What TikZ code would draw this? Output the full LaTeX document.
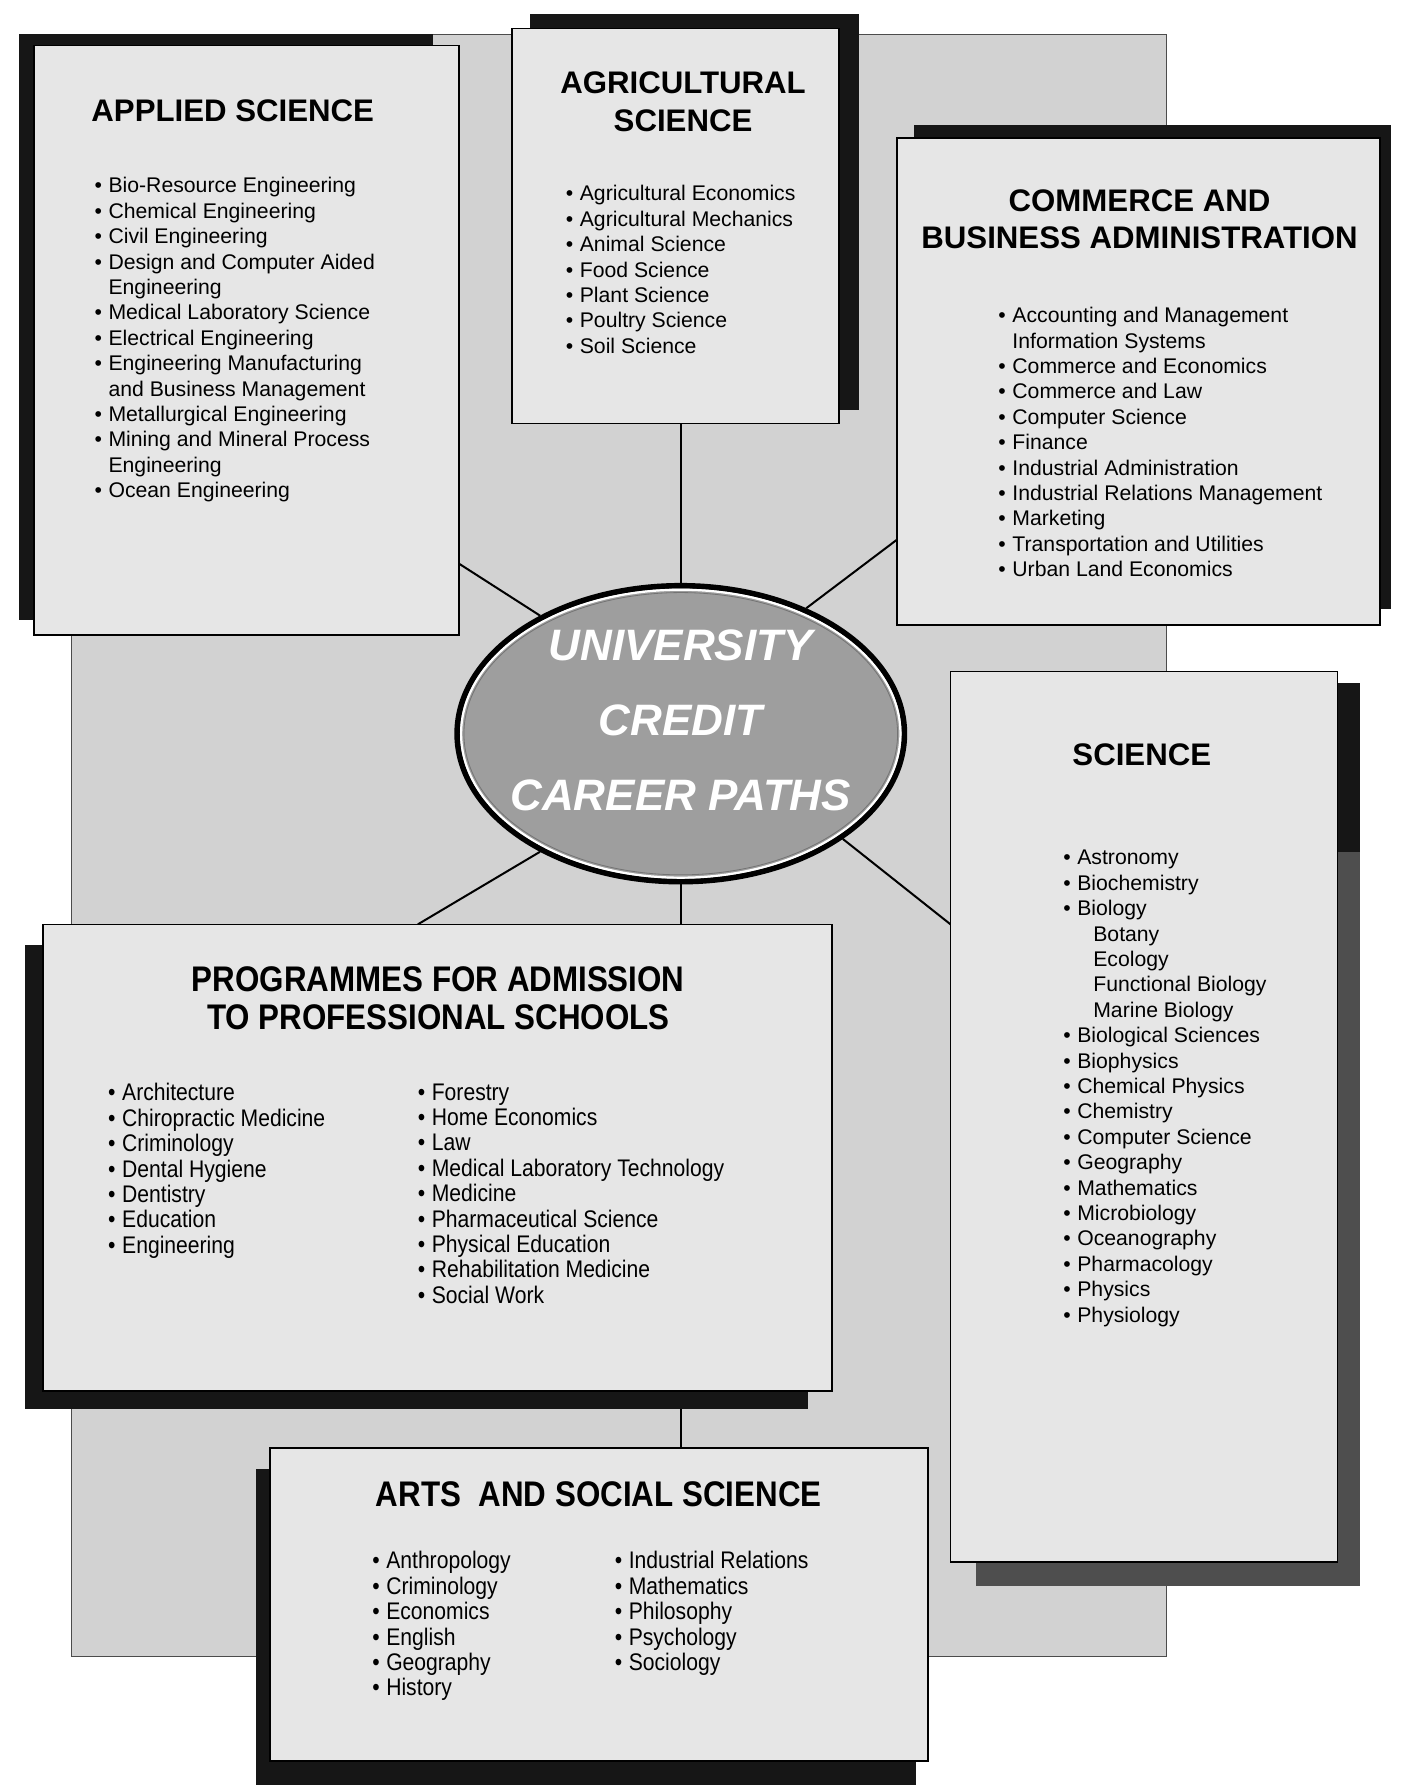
\documentclass[tikz,border=0pt]{standalone}
\usepackage{fontspec}
\setmainfont{Liberation Sans}
\newfontfamily\narrowsans[FakeStretch=0.88]{Liberation Sans}
\usetikzlibrary{shapes.geometric,fit,positioning}
\definecolor{panelgray}{RGB}{210,210,210}
\definecolor{boxgray}{RGB}{230,230,230}
\definecolor{shadowblack}{RGB}{22,22,22}
\definecolor{shadowgray}{RGB}{78,78,78}
\definecolor{hubgray}{RGB}{158,158,158}

\pgfdeclarelayer{back}
\pgfsetlayers{back,main}

% bullet, wrapped line and sub-entry indents
\newcommand\bul{\makebox[7pt][l]{\textbullet}}
\newcommand\wrapin{\hspace*{7pt}}
\newcommand\subin{\hspace*{15pt}}

\begin{document}
\begin{tikzpicture}[x=0.02cm, y=-0.02cm,
  box/.style={draw=black, line width=0.8pt, fill=boxgray, inner sep=0pt},
  hub/.style={ellipse, draw=black, line width=2.8pt, fill=hubgray,
    minimum width=7.86cm, minimum height=5.2cm, inner sep=0pt},
  hubtext/.style={font=\fontsize{22}{37.4}\selectfont\bfseries\itshape,
    text=white, align=center, inner sep=0pt},
  headline/.style={font=\fontsize{15.6}{18.7}\selectfont\bfseries,
    align=center, anchor=north, inner sep=0pt},
  itemlist/.style={font=\fontsize{10.6}{12.7}\selectfont,
    align=left, anchor=north west, inner sep=0pt},
  narrowhead/.style={font=\narrowsans\fontsize{17.8}{18.7}\selectfont\bfseries,
    align=center, anchor=north, inner sep=0pt},
  narrowlist/.style={font=\narrowsans\fontsize{12}{12.7}\selectfont,
    align=left, anchor=north west, inner sep=0pt},
  link/.style={line width=1pt}]

  \useasboundingbox (0,0) rectangle (1234,1568);

  % Grey backing panel behind everything
  \begin{pgfonlayer}{back}
    \filldraw[fill=panelgray, draw=black!70, line width=0.4pt] (63,30) rectangle (1025,1455);
  \end{pgfonlayer}

  % Drop shadows of the faculty boxes
  \fill[shadowblack] (17,30) rectangle (380,545);
  \fill[shadowblack] (466,12) rectangle (755,360);
  \fill[shadowblack] (803,110) rectangle (1222,535);
  \fill[shadowblack] (857,600) rectangle (1195,748);
  \fill[shadowgray] (857,748) rectangle (1195,1393);
  \fill[shadowblack] (22,830) rectangle (710,1238);
  \fill[shadowblack] (225,1290) rectangle (805,1568);

  % Faculty boxes
  \node[box, fit={(30,40) (403,558)}] (applied) {};
  \node[box, fit={(450,25) (737,372)}] (agri) {};
  \node[box, fit={(788,121) (1212,549)}] (commerce) {};
  \node[box, fit={(835,590) (1175,1372)}] (science) {};
  \node[box, fit={(38,812) (731,1222)}] (prog) {};
  \node[box, fit={(237,1272) (815,1547)}] (arts) {};

  % Central ellipse with its thin white inner ring
  \node[hub] (uni) at (598,644.5) {};
  \draw[white, line width=1.1pt] (uni.center) ellipse [x radius=3.86cm, y radius=2.53cm];
  \draw[black!55, line width=0.4pt] (uni.center) ellipse [x radius=3.81cm, y radius=2.48cm];
  \node[hubtext] (unitext) at (598,633) {UNIVERSITY\\CREDIT\\CAREER PATHS};

  % Spokes from the ellipse out to the boxes
  \coordinate (applIn) at (403,495);
  \coordinate (commIn) at (788,474);
  \coordinate (sciIn) at (835,812);
  \coordinate (progIn) at (367,812);
  \begin{pgfonlayer}{back}
    \draw[link] (uni.north) -- (uni.north |- agri.south);
    \draw[link] (uni.140) -- (applIn);
    \draw[link] (uni.45) -- (commIn);
    \draw[link] (uni.-33) -- (sciIn);
    \draw[link] (uni.220) -- (progIn);
    \draw[link] (uni.south) -- (uni.south |- prog.north);
    \draw[link] (uni.south |- prog.south) -- (uni.south |- arts.north);
  \end{pgfonlayer}

  % Applied Science
  \node[headline, anchor=north west] (appliedT) at (80,87) {APPLIED SCIENCE};
  \node[itemlist] (appliedL) at (82.7,155.6) {\bul Bio-Resource Engineering\\
    \bul Chemical Engineering\\ \bul Civil Engineering\\
    \bul Design and Computer Aided\\ \wrapin Engineering\\
    \bul Medical Laboratory Science\\ \bul Electrical Engineering\\
    \bul Engineering Manufacturing\\ \wrapin and Business Management\\
    \bul Metallurgical Engineering\\ \bul Mining and Mineral Process\\
    \wrapin Engineering\\ \bul Ocean Engineering};

  % Agricultural Science
  \node[headline] (agriT) at (600,63) {AGRICULTURAL\\SCIENCE};
  \node[itemlist] (agriL) at (496.7,162.6) {\bul Agricultural Economics\\
    \bul Agricultural Mechanics\\ \bul Animal Science\\ \bul Food Science\\
    \bul Plant Science\\ \bul Poultry Science\\ \bul Soil Science};

  % Commerce and Business Administration
  \node[headline] (commerceT) at (1001,166) {COMMERCE AND\\BUSINESS ADMINISTRATION};
  \node[itemlist] (commerceL) at (876.7,269.6) {\bul Accounting and Management\\
    \wrapin Information Systems\\ \bul Commerce and Economics\\
    \bul Commerce and Law\\ \bul Computer Science\\ \bul Finance\\
    \bul Industrial Administration\\ \bul Industrial Relations Management\\
    \bul Marketing\\ \bul Transportation and Utilities\\ \bul Urban Land Economics};

  % Science
  \node[headline] (scienceT) at (1003,653) {SCIENCE};
  \node[itemlist] (scienceL) at (933.7,746.6) {\bul Astronomy\\ \bul Biochemistry\\
    \bul Biology\\ \subin Botany\\ \subin Ecology\\ \subin Functional Biology\\
    \subin Marine Biology\\ \bul Biological Sciences\\ \bul Biophysics\\
    \bul Chemical Physics\\ \bul Chemistry\\ \bul Computer Science\\
    \bul Geography\\ \bul Mathematics\\ \bul Microbiology\\ \bul Oceanography\\
    \bul Pharmacology\\ \bul Physics\\ \bul Physiology};

  % Programmes for admission to professional schools
  \node[narrowhead] (progT) at (385,849) {PROGRAMMES FOR ADMISSION\\TO PROFESSIONAL SCHOOLS};
  \node[narrowlist] (progL) at (94.7,951.5) {\bul Architecture\\
    \bul Chiropractic Medicine\\ \bul Criminology\\ \bul Dental Hygiene\\
    \bul Dentistry\\ \bul Education\\ \bul Engineering};
  \node[narrowlist] (progR) at (366.7,951.5) {\bul Forestry\\ \bul Home Economics\\
    \bul Law\\ \bul Medical Laboratory Technology\\ \bul Medicine\\
    \bul Pharmaceutical Science\\ \bul Physical Education\\
    \bul Rehabilitation Medicine\\ \bul Social Work};

  % Arts and Social Science
  \node[narrowhead] (artsT) at (526,1301) {ARTS\ \ AND SOCIAL SCIENCE};
  \node[narrowlist] (artsL) at (326.7,1362.5) {\bul Anthropology\\ \bul Criminology\\
    \bul Economics\\ \bul English\\ \bul Geography\\ \bul History};
  \node[narrowlist] (artsR) at (539.7,1362.5) {\bul Industrial Relations\\
    \bul Mathematics\\ \bul Philosophy\\ \bul Psychology\\ \bul Sociology};
\end{tikzpicture}
\end{document}
